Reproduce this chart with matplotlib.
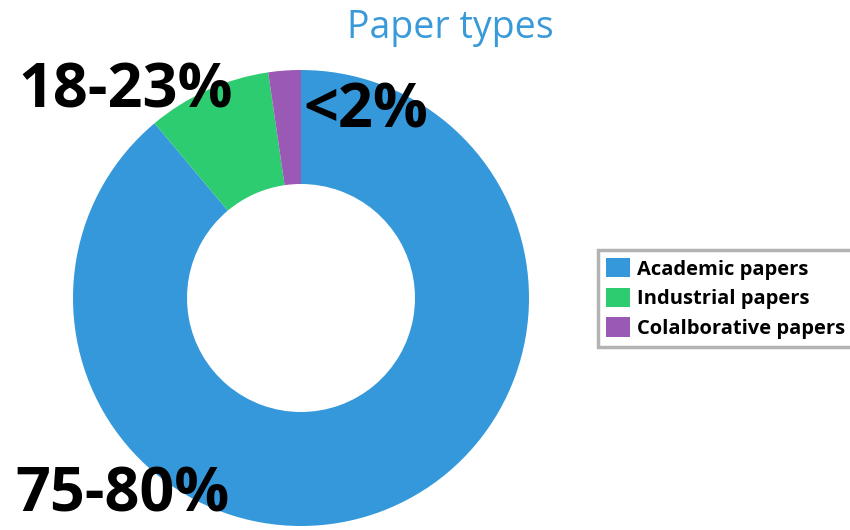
import matplotlib
matplotlib.use("Agg")
import matplotlib.pyplot as plt

categories = ["Academic papers", "Industrial papers", "Colalborative papers"]
values = [88.9, 8.8, 2.3]
colors = ["#3498db", "#2ecc71", "#9b59b6"]
slice_labels = ["75-80%", "18-23%", "<2%"]
title = "Paper types"

W, H = 850, 530
fig = plt.figure(figsize=(8.5, 5.3), dpi=100)
cx, cy, r = 301, 530 - 298, 228
ax = fig.add_axes([(cx - r) / W, (cy - r) / H, 2 * r / W, 2 * r / H])
wedges, _ = ax.pie(values, colors=colors, startangle=90, counterclock=False,
                   radius=1.0, wedgeprops=dict(width=0.5, linewidth=0))
ax.set_xlim(-1, 1)
ax.set_ylim(-1, 1)
ax.set_aspect("equal")
ax.axis("off")

fs = 44
fig.text(18 / W, 1 - 108 / H, slice_labels[1], fontsize=fs, fontweight="bold",
         family="Open Sans", ha="left", va="baseline", color="black", zorder=10)
fig.text(303 / W, 1 - 128 / H, slice_labels[2], fontsize=fs, fontweight="bold",
         family="Open Sans", ha="left", va="baseline", color="black", zorder=10)
fig.text(15 / W, 1 - 511 / H, slice_labels[0], fontsize=fs, fontweight="bold",
         family="Open Sans", ha="left", va="baseline", color="black", zorder=10)

fig.text(450 / W, 1 - 38 / H, title, fontsize=27, color="#3a9ad9",
         family="Open Sans", ha="center", va="baseline")

leg = fig.legend(wedges, categories, loc="upper left",
                 bbox_to_anchor=(598 / W, 1 - 250 / H), frameon=True,
                 fancybox=False, edgecolor="#a0a0a0",
                 handlelength=1.2, handleheight=1.1, handletextpad=0.35,
                 labelspacing=0.4, borderpad=0.4, borderaxespad=0,
                 prop=dict(family="Open Sans", weight="bold", size=14.5))
leg.get_frame().set_linewidth(2.5)

fig.savefig("out.png", dpi=100)
